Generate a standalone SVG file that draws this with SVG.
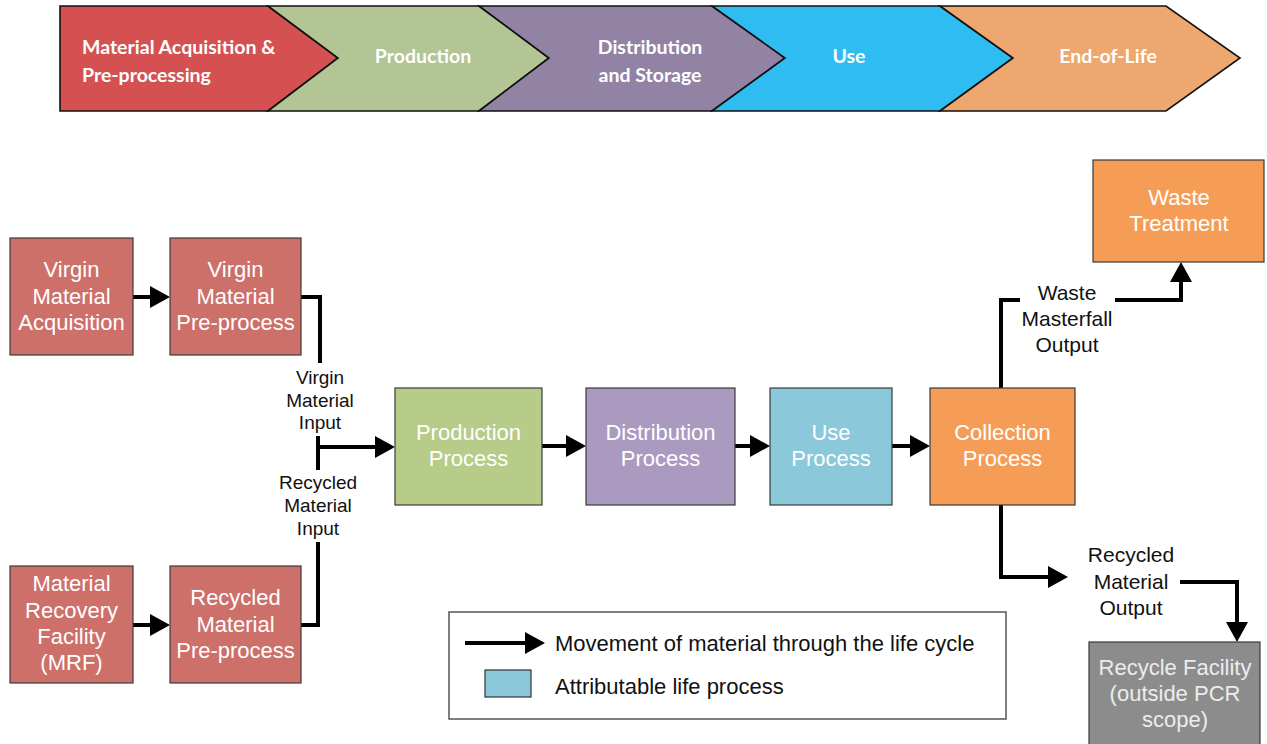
<svg xmlns="http://www.w3.org/2000/svg" width="1267" height="744" viewBox="0 0 1267 744">
<defs>
<style>
.chev{stroke:#111;stroke-width:1.6;stroke-linejoin:miter}
.bt{font-family:Lato,"Open Sans","Liberation Sans",sans-serif;font-size:19.5px;font-weight:bold;fill:#fff}
.box{stroke:#3a3a3a;stroke-width:1.2}
.bx{font-family:"Liberation Sans",Arial,sans-serif;font-size:22px;fill:#fff;text-anchor:middle}
.lbl{font-family:"Liberation Sans",Arial,sans-serif;font-size:19px;fill:#111;text-anchor:middle}
.lbr{font-family:"Liberation Sans",Arial,sans-serif;font-size:21px;fill:#111;text-anchor:middle}
.lg{font-family:"Liberation Sans",Arial,sans-serif;font-size:22px;fill:#111}
.con{fill:none;stroke:#000;stroke-width:4;stroke-linejoin:miter}
.red{fill:#CD706A}
.gt{fill:#ececec}
</style>
<marker id="ah" viewBox="0 0 20 22" refX="1" refY="11" markerWidth="20" markerHeight="22" markerUnits="userSpaceOnUse" orient="auto">
<path d="M0,0 L20,11 L0,22 Z" fill="#000"/>
</marker>
</defs>
<rect width="1267" height="744" fill="#fff"/>

<g id="banner">
<polygon class="chev" fill="#D45051" points="60,6 268,6 338,58 268,111 60,111"/>
<polygon class="chev" fill="#B3C495" points="268,6 479,6 549,58 479,111 268,111 338,58"/>
<polygon class="chev" fill="#9283A5" points="479,6 712,6 785,58 712,111 479,111 549,58"/>
<polygon class="chev" fill="#2FBDF1" points="712,6 940,6 1013,58 940,111 712,111 785,58"/>
<polygon class="chev" fill="#EEA76F" points="940,6 1166,6 1240,58 1166,111 940,111 1013,58"/>
<text class="bt" x="82" y="54">Material Acquisition &amp;</text>
<text class="bt" x="82" y="82">Pre-processing</text>
<text class="bt" x="423" y="63" text-anchor="middle">Production</text>
<text class="bt" x="650" y="54" text-anchor="middle">Distribution</text>
<text class="bt" x="650" y="82" text-anchor="middle">and Storage</text>
<text class="bt" x="849" y="63" text-anchor="middle">Use</text>
<text class="bt" x="1108" y="63" text-anchor="middle">End-of-Life</text>
</g>

<g id="connectors">
<path class="con" d="M133,297 H151" marker-end="url(#ah)"/>
<path class="con" d="M301,297 H320 V363"/>
<path class="con" d="M318,436 V470"/>
<path class="con" d="M318,447 H376" marker-end="url(#ah)"/>
<path class="con" d="M318,542 V625 H301"/>
<path class="con" d="M133,625 H151" marker-end="url(#ah)"/>
<path class="con" d="M542,446 H567" marker-end="url(#ah)"/>
<path class="con" d="M735,446 H751" marker-end="url(#ah)"/>
<path class="con" d="M892,446 H911" marker-end="url(#ah)"/>
<path class="con" d="M1001,388 V300 H1020"/>
<path class="con" d="M1115,300 H1181 V281" marker-end="url(#ah)"/>
<path class="con" d="M1001,505 V577 H1049" marker-end="url(#ah)"/>
<path class="con" d="M1180,582 H1237 V623" marker-end="url(#ah)"/>
</g>

<g id="virgin-acq">
<rect class="box red" x="10" y="238" width="123" height="117"/>
<text class="bx" x="71.5" y="277">Virgin</text>
<text class="bx" x="71.5" y="303.5">Material</text>
<text class="bx" x="71.5" y="330">Acquisition</text>
</g>
<g id="virgin-pre">
<rect class="box red" x="170" y="238" width="131" height="117"/>
<text class="bx" x="235.5" y="277">Virgin</text>
<text class="bx" x="235.5" y="303.5">Material</text>
<text class="bx" x="235.5" y="330">Pre-process</text>
</g>
<g id="mrf">
<rect class="box red" x="10" y="566" width="123" height="117"/>
<text class="bx" x="71.5" y="591">Material</text>
<text class="bx" x="71.5" y="618">Recovery</text>
<text class="bx" x="71.5" y="644">Facility</text>
<text class="bx" x="71.5" y="670">(MRF)</text>
</g>
<g id="recycled-pre">
<rect class="box red" x="170" y="566" width="131" height="117"/>
<text class="bx" x="235.5" y="605">Recycled</text>
<text class="bx" x="235.5" y="631.5">Material</text>
<text class="bx" x="235.5" y="658">Pre-process</text>
</g>

<g id="virgin-input-label">
<text class="lbl" x="320" y="384">Virgin</text>
<text class="lbl" x="320" y="406.5">Material</text>
<text class="lbl" x="320" y="429">Input</text>
</g>
<g id="recycled-input-label">
<text class="lbl" x="318" y="489">Recycled</text>
<text class="lbl" x="318" y="512">Material</text>
<text class="lbl" x="318" y="535">Input</text>
</g>

<g id="production">
<rect class="box" fill="#B8CC8A" x="395" y="388" width="147" height="117"/>
<text class="bx" x="468.5" y="440">Production</text>
<text class="bx" x="468.5" y="466">Process</text>
</g>
<g id="distribution">
<rect class="box" fill="#AB9ABF" x="586" y="388" width="149" height="117"/>
<text class="bx" x="660.5" y="440">Distribution</text>
<text class="bx" x="660.5" y="466">Process</text>
</g>
<g id="use">
<rect class="box" fill="#8AC8DA" x="770" y="388" width="122" height="117"/>
<text class="bx" x="831" y="440">Use</text>
<text class="bx" x="831" y="466">Process</text>
</g>
<g id="collection">
<rect class="box" fill="#F59D56" x="930" y="388" width="145" height="117"/>
<text class="bx" x="1002.5" y="440">Collection</text>
<text class="bx" x="1002.5" y="466">Process</text>
</g>

<g id="waste-label">
<text class="lbr" x="1067" y="299.5">Waste</text>
<text class="lbr" x="1067" y="325.5">Masterfall</text>
<text class="lbr" x="1067" y="351.5">Output</text>
</g>
<g id="waste-treatment">
<rect class="box" fill="#F59D56" x="1093" y="160" width="171" height="102"/>
<text class="bx" x="1179" y="205">Waste</text>
<text class="bx" x="1179" y="231">Treatment</text>
</g>
<g id="recycled-output-label">
<text class="lbr" x="1131" y="562">Recycled</text>
<text class="lbr" x="1131" y="589">Material</text>
<text class="lbr" x="1131" y="615">Output</text>
</g>
<g id="recycle-facility">
<rect class="box" fill="#8C8C8C" x="1089" y="642" width="171" height="110"/>
<text class="bx gt" x="1175" y="675">Recycle Facility</text>
<text class="bx gt" x="1175" y="701">(outside PCR</text>
<text class="bx gt" x="1175" y="727">scope)</text>
</g>

<g id="legend">
<rect x="449" y="612" width="557" height="107" fill="#fff" stroke="#555" stroke-width="1.5"/>
<path class="con" d="M465,643 H526" marker-end="url(#ah)"/>
<text class="lg" x="555" y="651">Movement of material through the life cycle</text>
<rect x="485" y="670" width="46" height="27" fill="#8AC8DA" stroke="#333" stroke-width="1.2"/>
<text class="lg" x="555" y="694">Attributable life process</text>
</g>
</svg>
